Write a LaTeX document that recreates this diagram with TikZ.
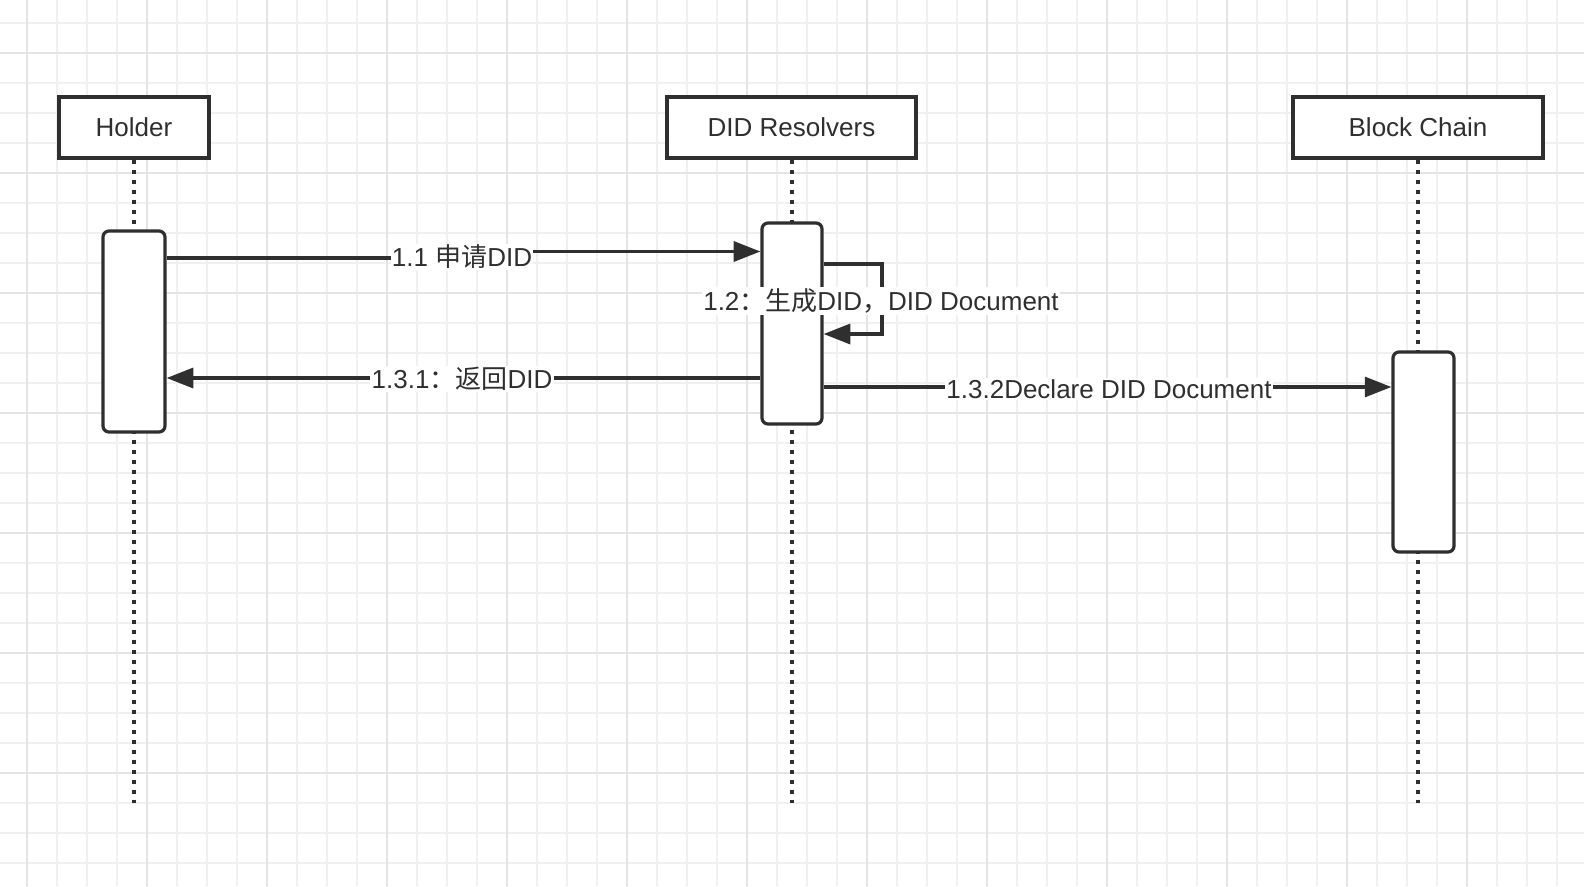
\documentclass[tikz,border=0pt]{standalone}
\usepackage{fontspec}
\setmainfont{Liberation Sans}
\newfontfamily\cjk{Noto Sans CJK SC}
\usetikzlibrary{arrows.meta}
\definecolor{ink}{HTML}{2F2F2F}
\definecolor{gridminor}{HTML}{F0F0F0}
\definecolor{gridmajor}{HTML}{E4E4E4}
\begin{document}
\begin{tikzpicture}[x=0.75pt,y=-0.75pt,
  every node/.style={font=\fontsize{19.5pt}{23pt}\selectfont, text=ink},
  head/.style={draw=ink, line width=2.4pt, fill=white, minimum height=45.75pt, inner sep=0pt},
  actbar/.style={draw=ink, line width=2.4pt, fill=white, rounded corners=4.5pt, inner sep=0pt, minimum height=150.75pt},
  life/.style={draw=ink, line width=3pt, dash pattern=on 3pt off 4.5pt},
  msg/.style={draw=ink, line width=2.4pt, -{Triangle[length=20pt,width=15pt]}},
  lbl/.style={fill=white, inner sep=1pt},
  gminor/.style={draw=gridminor, line width=1.5pt},
  gmajor/.style={draw=gridmajor, line width=1.5pt}]
\useasboundingbox (0,0) rectangle (1584,886);
\fill[white] (0,0) rectangle (1584,886);
% grid
\foreach \i in {0,...,51} \draw[gminor] ({26.7+30*\i},0) -- ++(0,886);
\foreach \j in {0,...,28} \draw[gminor] (0,{22.7+30*\j}) -- ++(1584,0);
\foreach \i in {0,...,12} \draw[gmajor] ({26.7+120*\i},0) -- ++(0,886);
\foreach \j in {0,...,6} \draw[gmajor] (0,{52.7+120*\j}) -- ++(1584,0);
% participants
\node[head, minimum width=112.5pt] (holder) at (134,127.5) {Holder};
\node[head, minimum width=186.75pt] (resolver) at (791.5,127.5) {DID Resolvers};
\node[head, minimum width=187.5pt] (chain) at (1418,127.5) {Block Chain};
% lifelines
\coordinate (holderend) at (134,803);
\coordinate (resolverend) at (791.5,803);
\coordinate (chainend) at (1418,803);
\draw[life] (holder.south) -- (holderend);
\draw[life] (resolver.south) -- (resolverend);
\draw[life] (chain.south) -- (chainend);
% activation bars
\node[actbar, minimum width=46.5pt] (hbar) at (134,331.5) {};
\node[actbar, minimum width=45pt] (dbar) at (792,323.5) {};
\node[actbar, minimum width=45.75pt, minimum height=150pt] (bbar) at (1423.5,452) {};
% messages
\draw[msg] (hbar.east |- 0,258) -- (462,258) -- (462,251.5) -- (dbar.west |- 0,251.5)
  node[lbl] (l11) at (462,257) {1.1 {\cjk 申请}DID};
\draw[msg] (dbar.east |- 0,264) -- (882,264) -- (882,334) -- (dbar.east |- 0,334)
  node[lbl] (l12) at (881,301) {1.2{\cjk ：生成}DID{\cjk ，}DID Document};
\draw[msg] (dbar.west |- 0,378) -- (hbar.east |- 0,378)
  node[lbl] (l131) at (462,379) {1.3.1{\cjk ：返回}DID};
\draw[msg] (dbar.east |- 0,387) -- (bbar.west |- 0,387)
  node[lbl] (l132) at (1109,389) {1.3.2Declare DID Document};
\end{tikzpicture}
\end{document}
